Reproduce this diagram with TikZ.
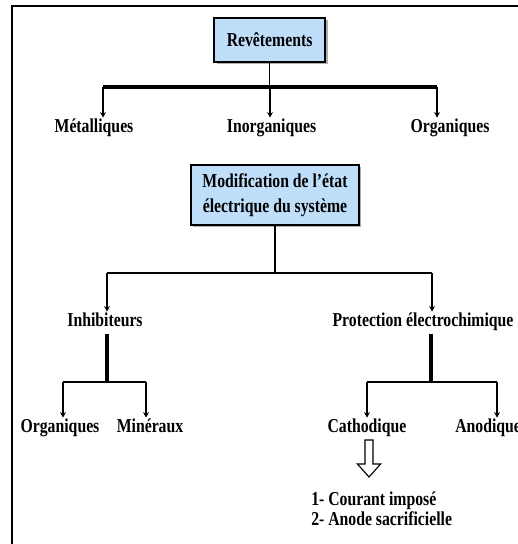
\documentclass[tikz,border=0pt]{standalone}
\usepackage{fontspec}
\setmainfont{Liberation Serif}[FakeStretch=0.8]
\usetikzlibrary{arrows.meta,shadows}
\definecolor{boxblue}{RGB}{191,222,250}
\begin{document}
\begin{tikzpicture}[font=\fontsize{14}{16}\selectfont\bfseries,
		lbl/.style={text height=1.5ex, text depth=0.45ex},
		titlebox/.style={draw, line width=1.2pt, fill=boxblue, inner sep=0, drop shadow={shadow xshift=0.06cm, shadow yshift=-0.06cm, fill=gray!80, opacity=0.8}},
		arr/.style={-{Stealth[length=4pt,width=4pt]}, line width=0.8pt}]
	\useasboundingbox (0,0) rectangle (12.925,13.6);
	% cadre
	\draw[line width=1.3pt] (0.3,-0.2) -- (0.3,13.45) -- (13.2,13.45);

	% revetements
	\node[titlebox, minimum width=2.775cm, minimum height=1.1cm] (rev) at (6.74,12.6) {Revêtements};
	\coordinate (r1) at (2.575,11.425);
	\coordinate (r2) at (10.925,11.425);
	\draw[line width=0.8pt] (rev) -- (rev |- r1);
	\draw[line width=2.5pt] (r1) -- (r2);
	\foreach \ax/\lx/\nm/\txt in {2.575/2.35/met/Métalliques, 6.75/6.79/inorg/Inorganiques, 10.925/11.25/org/Organiques}
		{
			\node[lbl] (\nm) at (\lx,10.375) {\txt};
			\coordinate (\nm-in) at (\ax,11.425);
			\draw[arr] (\nm-in) -- (\nm-in |- \nm.north);
		}

	% modification de l'etat electrique
	\node[titlebox, minimum width=4.2cm, minimum height=1.5cm, align=center, font=\fontsize{14}{18}\selectfont\bfseries] (mod) at (6.875,8.725) {Modification de l’état\\électrique du système};
	\coordinate (m1) at (2.675,6.775);
	\coordinate (m2) at (10.8,6.775);
	\draw[line width=1.5pt] (mod) -- (mod |- m1);
	\draw[line width=1.5pt] (m1) -- (m2);
	\node[lbl] (inh) at (2.625,5.525) {Inhibiteurs};
	\node[lbl] (pro) at (10.575,5.525) {Protection électrochimique};
	\draw[arr] (m1) -- (m1 |- inh.north);
	\draw[arr] (m2) -- (m2 |- pro.north);

	% inhibiteurs
	\coordinate (i0) at (2.675,4.05);
	\coordinate (i1) at (1.575,4.05);
	\coordinate (i2) at (3.65,4.05);
	\draw[line width=2.5pt] (i0 |- inh.south) -- (i0);
	\draw[line width=1.5pt] (i1) -- (i2);
	\node[lbl] (org2) at (1.5,2.875) {Organiques};
	\node[lbl] (min) at (3.75,2.875) {Minéraux};
	\draw[arr] (i1) -- (i1 |- org2.north);
	\draw[arr] (i2) -- (i2 |- min.north);

	% protection electrochimique
	\coordinate (p0) at (10.775,4.05);
	\coordinate (p1) at (9.175,4.05);
	\coordinate (p2) at (12.425,4.05);
	\draw[line width=2.5pt] (p0 |- pro.south) -- (p0);
	\draw[line width=1.5pt] (p1) -- (p2);
	\node[lbl] (cat) at (9.175,2.875) {Cathodique};
	\node[lbl, anchor=west, inner xsep=0] (ano) at (11.375,2.875) {Anodique};
	\draw[arr] (p1) -- (p1 |- cat.north);
	\draw[arr] (p2) -- (p2 |- ano.north);

	% fleche creuse
	\draw[line width=0.8pt, fill=white] (9.125,2.6) -- (9.325,2.6) -- (9.325,2.0) -- (9.515,2.0) -- (9.225,1.675) -- (8.935,2.0) -- (9.125,2.0) -- cycle;
	\node[lbl, anchor=west, inner xsep=0] (l1) at (7.775,1.05) {1- Courant imposé};
	\node[lbl, anchor=west, inner xsep=0] (l2) at (7.775,0.55) {2- Anode sacrificielle};
\end{tikzpicture}
\end{document}
